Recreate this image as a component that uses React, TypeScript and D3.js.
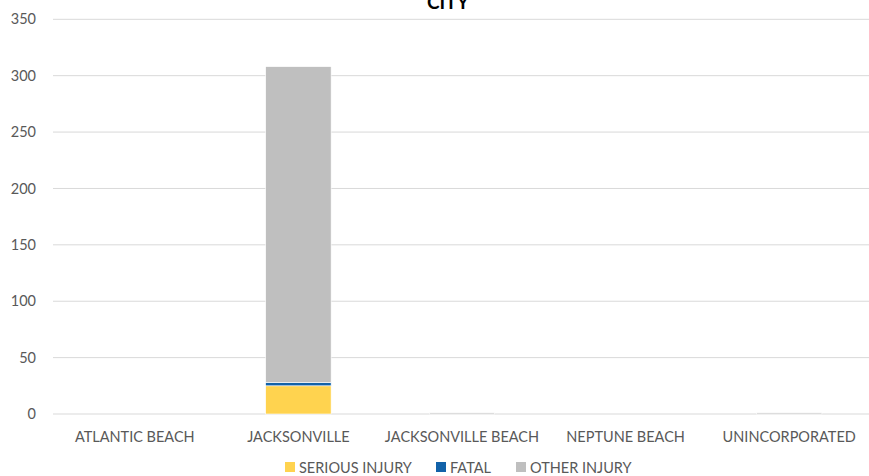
import React from "react";
import * as d3 from "d3";

const categories = ["ATLANTIC BEACH", "JACKSONVILLE", "JACKSONVILLE BEACH", "NEPTUNE BEACH", "UNINCORPORATED"];
const seriousInjury = [0, 25, 0, 0, 0];
const fatal = [0, 3, 0, 0, 0];
const otherInjury = [0, 280, 1, 0, 1];
const seriesNames = ["SERIOUS INJURY", "FATAL", "OTHER INJURY"];
const seriesColors = ["#FFD34F", "#1262A9", "#BFBFBF"];
const yTicks = [0, 50, 100, 150, 200, 250, 300, 350];
const title = "CITY";

const W = 869;
const H = 476;
const FONT = "Lato, 'Open Sans', sans-serif";

export default function App() {
  const x = d3.scaleBand<string>().domain(categories).range([53, 871]).paddingInner(0.6).paddingOuter(0.3);
  const y = d3.scaleLinear().domain([0, 350]).range([414, 19.3]);

  const rows = categories.map((c, i) => ({
    cat: c,
    s0: seriousInjury[i],
    s1: fatal[i],
    s2: otherInjury[i],
  }));
  const stack = d3.stack<any>().keys(["s0", "s1", "s2"]);
  const series = stack(rows);

  const legendItems = [
    { x: 285 },
    { x: 436 },
    { x: 516 },
  ];

  return (
    <svg width={W} height={H} style={{ position: "absolute", left: 0, top: 0, background: "#fff" }} fontFamily={FONT}>
      <text x={448} y={9} textAnchor="middle" fontSize={19} fontWeight="bold" fill="#000">{title}</text>
      {yTicks.map((t) => (
        <g key={t}>
          <line x1={53} x2={W} y1={y(t)} y2={y(t)} stroke="#D9D9D9" strokeWidth={1} />
          <text x={36} y={y(t)} dy="0.35em" textAnchor="end" fontSize={14.5} fill="#595959">{t}</text>
        </g>
      ))}
      {series.map((s, si) => (
        <g key={si} fill={seriesColors[si]}>
          {s.map((d, i) => {
            const h = y(d[0]) - y(d[1]);
            if (h <= 0) return null;
            return (
              <rect key={i} x={x(categories[i])!} width={x.bandwidth()} y={y(d[1])} height={h}
                stroke="#fff" strokeWidth={0.6} />
            );
          })}
        </g>
      ))}
      {categories.map((c) => (
        <text key={c} x={x(c)! + x.bandwidth() / 2} y={442} textAnchor="middle" fontSize={14.5} fill="#595959">{c}</text>
      ))}
      {seriesNames.map((n, i) => (
        <g key={n}>
          <rect x={legendItems[i].x} y={462} width={10} height={10} fill={seriesColors[i]} />
          <text x={legendItems[i].x + 14} y={472.5} fontSize={14.5} fill="#595959">{n}</text>
        </g>
      ))}
    </svg>
  );
}
